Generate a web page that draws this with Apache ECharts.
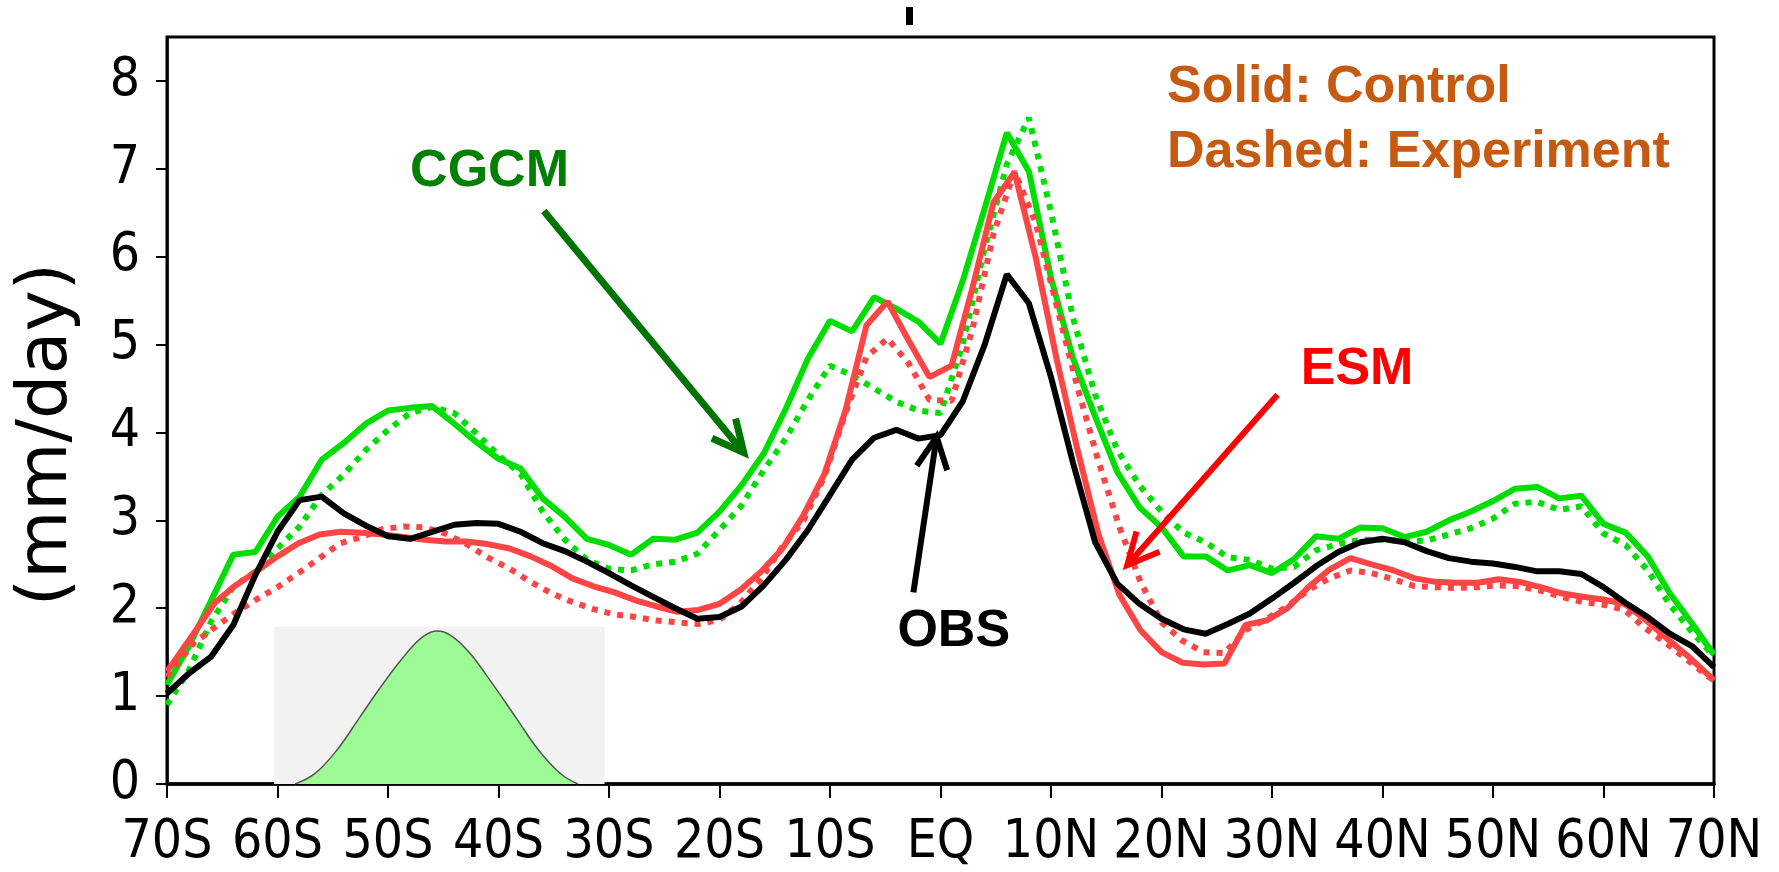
<!DOCTYPE html>
<html lang="en" style="height: 100%">
<head>
  <meta charset="utf-8">
</head>
<body style="height: 100%; margin: 0; background: #fff">
<div id="container" style="width: 1779px; height: 872px"></div>
<script type="text/javascript" src="https://cdn.jsdelivr.net/npm/echarts@6/dist/echarts.min.js"></script>
<script type="text/javascript">
  // x ticks
  var xTicks = [-70, -60, -50, -40, -30, -20, -10, 0, 10, 20, 30, 40, 50, 60, 70];
  var xTickLabels = ['70S', '60S', '50S', '40S', '30S', '20S', '10S', 'EQ', '10N', '20N', '30N', '40N', '50N', '60N', '70N'];
  var yTicks = [0, 1, 2, 3, 4, 5, 6, 7, 8];

  // 2 degree grid (OBS and CGCM)
  var lat2 = [-70, -68, -66, -64, -62, -60, -58, -56, -54, -52, -50, -48, -46, -44, -42, -40, -38, -36,
    -34, -32, -30, -28, -26, -24, -22, -20, -18, -16, -14, -12, -10, -8, -6, -4, -2, 0,
    2, 4, 6, 8, 10, 12, 14, 16, 18, 20, 22, 24, 26, 28, 30, 32, 34, 36,
    38, 40, 42, 44, 46, 48, 50, 52, 54, 56, 58, 60, 62, 64, 66, 68, 70];

  // gaussian grid (ESM)
  var latEsm = [-70, -69.5, -67.6, -65.7, -63.8, -61.9, -60.0, -58.1, -56.2, -54.3, -52.4, -50.5, -48.6,
    -46.7, -44.8, -42.9, -41.0, -39.0, -37.1, -35.2, -33.3, -31.4, -29.5, -27.6, -25.7, -23.8,
    -21.9, -20.0, -18.1, -16.2, -14.3, -12.4, -10.5, -8.6, -6.7, -4.8, -2.9, -1.0,
    1.0, 2.9, 4.8, 6.7, 8.6, 10.5, 12.4, 14.3, 16.2, 18.1, 20.0, 21.9, 23.8, 25.7,
    27.6, 29.5, 31.4, 33.3, 35.2, 37.1, 39.0, 41.0, 42.9, 44.8, 46.7, 48.6, 50.5,
    52.4, 54.3, 56.2, 58.1, 60.0, 61.9, 63.8, 65.7, 67.6, 69.5, 70];

  var obs = [1.03, 1.26, 1.45, 1.81, 2.38, 2.87, 3.23, 3.27, 3.08, 2.94, 2.82, 2.79, 2.87, 2.95, 2.97, 2.96, 2.87, 2.74,
    2.65, 2.53, 2.40, 2.26, 2.13, 2.00, 1.88, 1.90, 2.02, 2.26, 2.55, 2.89, 3.29, 3.69, 3.94, 4.03, 3.93, 3.97,
    4.35, 5.00, 5.80, 5.47, 4.63, 3.65, 2.75, 2.28, 2.05, 1.88, 1.76, 1.71, 1.82, 1.94, 2.11, 2.29, 2.48, 2.64,
    2.75, 2.79, 2.75, 2.65, 2.57, 2.53, 2.51, 2.47, 2.42, 2.42, 2.39, 2.24, 2.06, 1.90, 1.71, 1.57, 1.33];

  var cgcmCtl = [1.13, 1.57, 2.09, 2.61, 2.64, 3.04, 3.27, 3.69, 3.88, 4.10, 4.25, 4.28, 4.30, 4.10, 3.89, 3.70, 3.59, 3.25,
    3.04, 2.79, 2.72, 2.61, 2.79, 2.78, 2.86, 3.10, 3.40, 3.76, 4.27, 4.84, 5.27, 5.15, 5.54, 5.41, 5.26, 5.01,
    5.72, 6.55, 7.41, 6.97, 5.76, 4.84, 4.18, 3.55, 3.15, 2.92, 2.59, 2.59, 2.43, 2.49, 2.40, 2.56, 2.82, 2.79,
    2.92, 2.91, 2.81, 2.87, 3.00, 3.10, 3.22, 3.36, 3.38, 3.25, 3.28, 2.96, 2.86, 2.59, 2.17, 1.83, 1.47];

  var cgcmExp = [0.90, 1.30, 1.85, 2.24, 2.42, 2.68, 2.93, 3.29, 3.52, 3.80, 4.03, 4.22, 4.29, 4.22, 3.99, 3.74, 3.53, 3.10,
    2.78, 2.55, 2.45, 2.43, 2.50, 2.53, 2.62, 2.89, 3.17, 3.57, 3.93, 4.37, 4.76, 4.65, 4.50, 4.35, 4.25, 4.22,
    5.00, 6.10, 7.05, 7.58, 6.51, 5.30, 4.43, 3.80, 3.40, 3.10, 2.86, 2.75, 2.58, 2.55, 2.45, 2.47, 2.66, 2.73,
    2.78, 2.78, 2.76, 2.77, 2.84, 2.91, 3.02, 3.19, 3.21, 3.12, 3.16, 2.85, 2.72, 2.43, 2.04, 1.73, 1.45];

  var esmCtl = [1.28, 1.37, 1.71, 2.06, 2.26, 2.42, 2.59, 2.74, 2.84, 2.87, 2.86, 2.84, 2.81,
    2.78, 2.76, 2.76, 2.73, 2.68, 2.59, 2.48, 2.34, 2.25, 2.18, 2.09, 2.02, 1.96,
    1.98, 2.05, 2.21, 2.42, 2.68, 3.06, 3.53, 4.25, 5.22, 5.49, 5.05, 4.63,
    4.76, 5.65, 6.62, 6.96, 6.00, 4.84, 3.80, 2.84, 2.15, 1.75, 1.50, 1.38, 1.36, 1.37,
    1.81, 1.86, 2.00, 2.24, 2.44, 2.57, 2.50, 2.43, 2.34, 2.30, 2.29, 2.29, 2.33,
    2.30, 2.24, 2.17, 2.13, 2.10, 2.05, 1.87, 1.66, 1.46, 1.24, 1.18];

  var esmExp = [1.22, 1.30, 1.60, 1.78, 1.95, 2.10, 2.24, 2.40, 2.57, 2.74, 2.81, 2.90, 2.93,
    2.92, 2.85, 2.73, 2.58, 2.45, 2.30, 2.17, 2.07, 1.99, 1.93, 1.90, 1.86, 1.84,
    1.82, 1.87, 2.06, 2.34, 2.70, 3.00, 3.50, 4.22, 4.86, 5.07, 4.79, 4.37,
    4.36, 5.18, 6.26, 6.97, 6.39, 5.45, 4.51, 3.67, 2.92, 2.30, 1.84, 1.63, 1.50, 1.49,
    1.75, 1.88, 2.02, 2.21, 2.34, 2.43, 2.40, 2.33, 2.25, 2.24, 2.23, 2.24, 2.26,
    2.25, 2.20, 2.13, 2.07, 2.04, 1.98, 1.77, 1.60, 1.41, 1.22, 1.18];

  // inset: forcing shape
  var insetBox = [[-60.3, -0.03], [-30.4, 1.79]];
  var bellLat = [-58.4, -56.6, -54.6, -52.5, -50.4, -48.3, -46.8, -45.5, -44.2, -42.6, -40.6, -38.5, -36.4, -34.4, -32.8];
  var bellVal = [0, 0.12, 0.39, 0.77, 1.15, 1.49, 1.68, 1.74, 1.68, 1.49, 1.15, 0.77, 0.39, 0.12, 0];

  // annotations [lat, mm/day]
  var arrowCgcm = [[-35.9, 6.52], [-17.8, 3.77]];
  var arrowEsm = [[30.5, 4.43], [16.9, 2.49]];
  var arrowObs = [[-2.45, 2.18], [-0.35, 3.95]];
  var labelCgcm = [-48.0, 6.97];
  var labelEsm = [32.6, 4.72];
  var labelObs = [-3.9, 1.73];
  var labelSolid = [20.5, 7.92];
  var labelDashed = [20.5, 7.18];

  function pairs(xs, ys) {
    return xs.map(function (x, i) { return [x, ys[i]]; });
  }

  var dom = document.getElementById('container');
  var myChart = echarts.init(dom, null, { renderer: 'canvas' });

  var tickFont = '"Liberation Sans Narrow", "DejaVu Sans Condensed", "Liberation Sans", Arial, sans-serif';
  var green = '#00dd00';
  var red = '#fd4545';

  var option = {
    animation: false,
    backgroundColor: '#ffffff',
    grid: {
      left: 167, right: 65, top: 37, bottom: 88,
      show: true, borderColor: '#000', borderWidth: 3
    },
    xAxis: {
      type: 'value',
      min: -70, max: 70, interval: 10,
      splitLine: { show: false },
      axisLine: { onZero: false, lineStyle: { color: '#000', width: 3.5 } },
      axisTick: { show: true, length: 14, lineStyle: { color: '#000', width: 2 }, customValues: xTicks },
      axisLabel: {
        customValues: xTicks,
        margin: 33,
        color: '#000',
        fontSize: 53,
        fontFamily: tickFont,
        formatter: function (v) {
          var i = xTicks.indexOf(v);
          return i >= 0 ? xTickLabels[i] : '';
        }
      }
    },
    yAxis: {
      type: 'value',
      min: 0, max: 8.5, interval: 1,
      name: '(mm/day)',
      nameLocation: 'middle',
      nameGap: 84,
      nameTextStyle: {
        fontSize: 70, color: '#000', fontFamily: '"DejaVu Sans", sans-serif',
        padding: [0, 48, 0, 0]
      },
      splitLine: { show: false },
      axisLine: { show: true, onZero: false, lineStyle: { color: '#000', width: 2.5 } },
      axisTick: { show: true, length: 11, lineStyle: { color: '#000', width: 2 }, customValues: yTicks },
      axisLabel: {
        customValues: yTicks,
        margin: 27,
        color: '#000',
        fontSize: 53,
        fontFamily: tickFont,
        formatter: function (v) { return v % 1 === 0 ? String(v) : ''; }
      }
    },
    series: [
      {
        name: 'box',
        type: 'line',
        z: 3,
        data: [],
        markArea: {
          silent: true,
          itemStyle: { color: '#f2f2f2' },
          data: [[{ coord: insetBox[0] }, { coord: insetBox[1] }]]
        }
      },
      {
        name: 'forcing',
        type: 'line',
        z: 4,
        smooth: 0.4,
        symbol: 'none',
        data: pairs(bellLat, bellVal),
        lineStyle: { color: '#555', width: 1.5 },
        areaStyle: { color: '#9dfb95', opacity: 1 }
      },
      {
        name: 'CGCM experiment', type: 'line', z: 5, symbol: 'none',
        data: pairs(lat2, cgcmExp),
        lineStyle: { color: green, width: 6, type: [6, 7] }
      },
      {
        name: 'CGCM control', type: 'line', z: 6, symbol: 'none',
        data: pairs(lat2, cgcmCtl),
        lineStyle: { color: green, width: 6 }
      },
      {
        name: 'ESM experiment', type: 'line', z: 7, symbol: 'none',
        data: pairs(latEsm, esmExp),
        lineStyle: { color: red, width: 6, type: [6, 7] }
      },
      {
        name: 'ESM control', type: 'line', z: 8, symbol: 'none',
        data: pairs(latEsm, esmCtl),
        lineStyle: { color: red, width: 6 }
      },
      {
        name: 'OBS', type: 'line', z: 9, symbol: 'none',
        data: pairs(lat2, obs),
        lineStyle: { color: '#000', width: 6 }
      }
    ]
  };
  myChart.setOption(option);

  function toPx(p) {
    return myChart.convertToPixel({ xAxisIndex: 0, yAxisIndex: 0 }, p);
  }

  // arrow with open head
  function arrow(pts, color, width) {
    var s = toPx(pts[0]);
    var t = toPx(pts[1]);
    var dx = s[0] - t[0], dy = s[1] - t[1];
    var len = Math.sqrt(dx * dx + dy * dy);
    var ux = dx / len, uy = dy / len;
    var a = 26 * Math.PI / 180, arm = 35;
    function rot(ang) {
      return [t[0] + arm * (ux * Math.cos(ang) - uy * Math.sin(ang)),
              t[1] + arm * (ux * Math.sin(ang) + uy * Math.cos(ang))];
    }
    return [
      { type: 'line', z: 20, shape: { x1: s[0], y1: s[1], x2: t[0] + ux * 3, y2: t[1] + uy * 3 },
        style: { stroke: color, lineWidth: width } },
      { type: 'polyline', z: 20, shape: { points: [rot(a), t, rot(-a)] },
        style: { stroke: color, lineWidth: width, lineJoin: 'miter', fill: null } }
    ];
  }

  function label(text, pos, color) {
    var p = toPx(pos);
    return {
      type: 'text', z: 20, x: p[0], y: p[1],
      style: {
        text: text, fill: color, align: 'left', verticalAlign: 'middle',
        fontSize: 52, fontWeight: 'bold', fontFamily: '"Liberation Sans", Arial, sans-serif'
      }
    };
  }

  var graphics = []
    .concat(arrow(arrowCgcm, '#007400', 7))
    .concat(arrow(arrowEsm, '#ff0000', 6))
    .concat(arrow(arrowObs, '#000000', 6));
  graphics.push(label('CGCM', labelCgcm, '#008000'));
  graphics.push(label('ESM', labelEsm, '#ff0000'));
  graphics.push(label('OBS', labelObs, '#000000'));
  graphics.push(label('Solid: Control', labelSolid, '#c55a11'));
  graphics.push(label('Dashed: Experiment', labelDashed, '#c55a11'));
  // fragment of a cropped title above the frame
  graphics.push({ type: 'rect', z: 20, shape: { x: 906, y: 7, width: 7, height: 18 }, style: { fill: '#000' } });

  myChart.setOption({ graphic: graphics });

  window.addEventListener('resize', myChart.resize);
</script>
</body>
</html>
